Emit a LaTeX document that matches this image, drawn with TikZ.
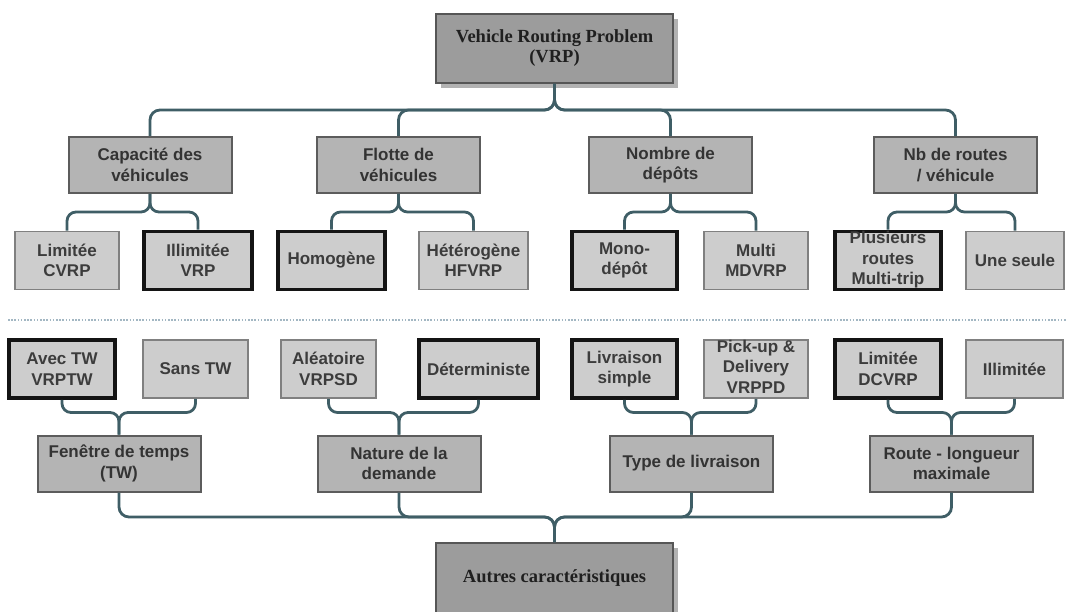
\documentclass[tikz,border=0pt]{standalone}
\usepackage{fontspec}
\usetikzlibrary{shadows}
\newfontfamily\boxsans{Liberation Sans}
\newfontfamily\boxserif{Liberation Serif}
\definecolor{linkc}{HTML}{3F5E66}
\definecolor{rootf}{HTML}{9C9C9C}
\definecolor{rootd}{HTML}{565656}
\definecolor{catf}{HTML}{B4B4B4}
\definecolor{catd}{HTML}{5C5C5C}
\definecolor{leaff}{HTML}{CDCDCD}
\definecolor{leafd}{HTML}{808080}
\definecolor{leaft}{HTML}{3C3C3C}
\definecolor{dotc}{HTML}{A3B7C3}
\newcommand{\overfull}[1]{\raisebox{-4pt}[0pt][0pt]{\begin{tabular}{@{}c@{}}#1\end{tabular}}}
\tikzset{
  rootbox/.style={draw=rootd, line width=2pt, fill=rootf, text=black!88,
    minimum width=237pt, minimum height=69pt, inner sep=0pt, align=center,
    font=\boxserif\bfseries\fontsize{18.5}{20}\selectfont,
    drop shadow={shadow xshift=5pt, shadow yshift=-5pt, fill=black, opacity=0.3}},
  catbox/.style={draw=catd, line width=2pt, fill=catf, text=black!80,
    minimum width=163pt, minimum height=56pt, inner sep=0pt, align=center,
    font=\boxsans\bfseries\fontsize{17}{20.5}\selectfont},
  leafbox/.style={draw=leafd, line width=1.6pt, fill=leaff, text=leaft,
    minimum height=58pt, inner sep=0pt, align=center,
    font=\boxsans\bfseries\fontsize{17}{20.5}\selectfont},
  chosen/.style={leafbox, draw=black!92, line width=3.6pt},
  link/.style={draw=linkc, line width=2.8pt, rounded corners=10pt},
  sep/.style={draw=dotc, line width=1.6pt, dash pattern=on 1.6pt off 1.6pt}
}
\begin{document}
\begin{tikzpicture}[x=1pt,y=-1pt]
\clip (0,0) rectangle (1067,612);

% root of the classification
\node[rootbox] (vrp) at (554.5,48.5) {Vehicle Routing Problem\\(VRP)};

% main criteria
\node[catbox] (cap) at (150,165) {Capacité des\\véhicules};
\node[catbox] (flo) at (398.5,165) {Flotte de\\véhicules};
\node[catbox] (nom) at (670.5,165) {Nombre de\\dépôts};
\node[catbox] (nbr) at (955.5,165) {Nb de routes\\/ véhicule};

% variants of the main criteria
\node[leafbox, minimum width=104pt] (lim) at (67,260.5) {Limitée\\CVRP};
\node[chosen, minimum width=108pt] (ill) at (198,260.5) {Illimitée\\VRP};
\node[chosen, minimum width=107pt] (hom) at (331.5,260.5) {Homogène};
\node[leafbox, minimum width=109pt] (het) at (473.5,260.5) {Hétérogène\\HFVRP};
\node[chosen, minimum width=105pt] (mono) at (624.5,260.5) {Mono-\\dépôt};
\node[leafbox, minimum width=104pt] (multi) at (756,260.5) {Multi\\MDVRP};
\node[chosen, minimum width=106pt] (plus) at (888,260.5) {\overfull{Plusieurs\\routes\\Multi-trip}};
\node[leafbox, minimum width=98pt] (une) at (1015,260.5) {Une seule};

% separation between the two groups
\coordinate (sepl) at (8,320);
\coordinate (sepr) at (1067,320);
\draw[sep] (sepl) -- (sepr);

% variants of the other characteristics
\node[chosen, minimum width=106pt] (avec) at (62,369) {Avec TW\\VRPTW};
\node[leafbox, minimum width=105pt] (sans) at (195.5,369) {Sans TW};
\node[leafbox, minimum width=95pt] (alea) at (328.5,369) {Aléatoire\\VRPSD};
\node[chosen, minimum width=119pt] (det) at (478.5,369) {Déterministe};
\node[chosen, minimum width=105pt] (livr) at (624.5,369) {Livraison\\simple};
\node[leafbox, minimum width=104pt] (pick) at (756,369) {\overfull{Pick-up \&\\Delivery\\VRPPD}};
\node[chosen, minimum width=106pt] (limd) at (888,369) {Limitée\\DCVRP};
\node[leafbox, minimum width=97pt] (illd) at (1014.5,369) {Illimitée};

% other characteristics
\node[catbox] (fen) at (119,463.5) {Fenêtre de temps\\(TW)};
\node[catbox] (nat) at (399,463.5) {Nature de la\\demande};
\node[catbox] (typ) at (691.5,463.5) {Type de livraison};
\node[catbox] (rou) at (951.5,463.5) {Route - longueur\\maximale};

\node[rootbox, minimum height=70pt] (aut) at (554.5,578) {Autres caractéristiques};

% brace-shaped connectors
\foreach \c in {cap,flo,nom,nbr}
  \draw[link] (vrp.south) -- ++(0,26) -| (\c.north);
\foreach \p/\a/\b in {cap/lim/ill, flo/hom/het, nom/mono/multi, nbr/plus/une}{
  \draw[link, rounded corners=9pt] (\p.south) -- ++(0,18) -| (\a.north);
  \draw[link, rounded corners=9pt] (\p.south) -- ++(0,18) -| (\b.north);
}
\foreach \p/\a/\b in {fen/avec/sans, nat/alea/det, typ/livr/pick, rou/limd/illd}{
  \draw[link, rounded corners=9pt] (\p.north) -- ++(0,-22) -| (\a.south);
  \draw[link, rounded corners=9pt] (\p.north) -- ++(0,-22) -| (\b.south);
}
\foreach \c in {fen,nat,typ,rou}
  \draw[link] (aut.north) -- ++(0,-25) -| (\c.south);
\end{tikzpicture}
\end{document}
